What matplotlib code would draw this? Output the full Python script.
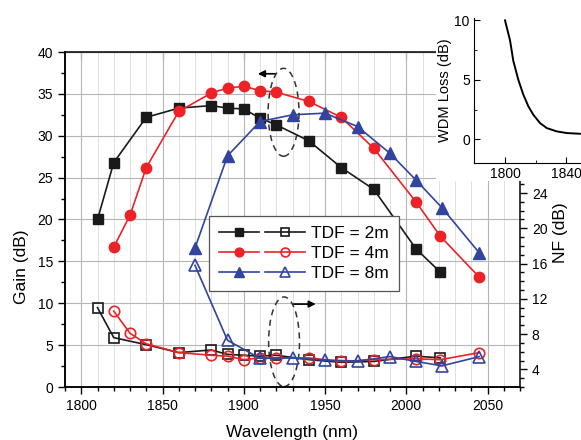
import matplotlib
matplotlib.use("Agg")
import matplotlib.pyplot as plt
from matplotlib.patches import Ellipse, Rectangle
from matplotlib.legend_handler import HandlerTuple
from matplotlib.ticker import MultipleLocator

plt.rcParams['font.family'] = ['Liberation Sans', 'DejaVu Sans']

# ---- data ----
wl_2m = [1810, 1820, 1840, 1860, 1880, 1890, 1900, 1910, 1920, 1940, 1960, 1980, 2006, 2021]
gain_2m = [20.0, 26.8, 32.2, 33.3, 33.6, 33.3, 33.2, 32.1, 31.3, 29.4, 26.2, 23.6, 16.5, 13.7]
nf_2m = [11.0, 7.6, 6.8, 5.9, 6.2, 5.7, 5.6, 5.5, 5.6, 5.1, 4.8, 4.9, 5.5, 5.3]

wl_4m = [1820, 1830, 1840, 1860, 1880, 1890, 1900, 1910, 1920, 1940, 1960, 1980, 2006, 2021, 2045]
gain_4m = [16.7, 20.5, 26.2, 32.9, 35.1, 35.7, 35.9, 35.4, 35.2, 34.1, 32.2, 28.5, 22.1, 18.0, 13.1]
nf_4m = [10.6, 8.1, 6.9, 5.9, 5.6, 5.5, 5.1, 5.3, 5.3, 5.3, 4.9, 5.1, 5.2, 5.1, 5.9]

wl_8m = [1870, 1890, 1910, 1930, 1950, 1970, 1990, 2006, 2022, 2045]
gain_8m = [16.6, 27.6, 31.7, 32.5, 32.7, 31.1, 27.9, 24.7, 21.4, 16.0]
nf_8m = [15.8, 7.3, 5.25, 5.3, 5.05, 4.95, 5.45, 4.9, 4.4, 5.45]

labels = ['TDF = 2m', 'TDF = 4m', 'TDF = 8m']

wdm_wl = [1800, 1803.3, 1805.4, 1808.7, 1812, 1815.3, 1818.5, 1822.9, 1827.3,
          1833.8, 1840.3, 1849]
wdm_loss = [10.0, 8.3, 6.6, 5.0, 3.74, 2.76, 2.06, 1.36, 0.94, 0.66, 0.52, 0.46]

# ---- styles ----
c_black = '#1a1a1a'
c_red = '#ec2227'
c_blue = '#3044a0'
colors = [c_black, c_red, c_blue]
markers = ['s', 'o', '^']
msize = [6.5, 7.5, 8]

W, H = 581, 440
fig = plt.figure(figsize=(W / 100, H / 100), dpi=100)
ax = fig.add_axes([65 / W, 53 / H, 455 / W, 335 / H])
ax2 = ax.twinx()

series = [(wl_2m, gain_2m, nf_2m), (wl_4m, gain_4m, nf_4m), (wl_8m, gain_8m, nf_8m)]
handles = []
for (wl, g, nf), c, m, ms in zip(series, colors, markers, msize):
    h1, = ax.plot(wl, g, color=c, marker=m, ms=ms, lw=1.2, mec=c, mfc=c, zorder=3)
    h2, = ax2.plot(wl, nf, color=c, marker=m, ms=ms, lw=1.2, mec=c, mfc='none',
                   mew=1.2, zorder=3)
    handles.append((h1, h2))

ax.set_xlim(1790, 2070)
ax.set_ylim(0, 40)
ax2.set_ylim(2, 40)

ax.xaxis.set_major_locator(MultipleLocator(50))
ax.xaxis.set_minor_locator(MultipleLocator(10))
ax.yaxis.set_major_locator(MultipleLocator(5))
ax.yaxis.set_minor_locator(MultipleLocator(2.5))
ax.tick_params(axis='both', which='major', direction='out', length=5, width=1, labelsize=10)
ax.tick_params(axis='both', which='minor', direction='out', length=3, width=1)

top = ax.secondary_xaxis('top')
top.xaxis.set_major_locator(MultipleLocator(50))
top.xaxis.set_minor_locator(MultipleLocator(10))
top.tick_params(which='major', direction='in', length=5, labeltop=False)
top.tick_params(which='minor', direction='in', length=3)

ax2.set_yticks([4, 8, 12, 16, 20, 24])
ax2.yaxis.set_minor_locator(MultipleLocator(1))
ax2.tick_params(axis='y', which='major', direction='out', length=5, width=1, labelsize=10)
ax2.tick_params(axis='y', which='minor', direction='out', length=3, width=1)
ax2.spines['right'].set_bounds(2, 25.5)
ax2.spines['top'].set_visible(False)
ax.spines['right'].set_visible(False)
for a in (ax, ax2):
    for s in a.spines.values():
        s.set_linewidth(1.1)

ax.grid(True, which='major', color='#b5b5b5', lw=0.8)
ax.grid(True, which='minor', axis='x', color='#e0e0e0', lw=0.7)
ax.set_axisbelow(True)

ax.set_xlabel('Wavelength (nm)', fontsize=12.5, labelpad=9)
ax.set_ylabel('Gain (dB)', fontsize=12.5, labelpad=6, y=0.36)
ax2.set_ylabel('NF (dB)', fontsize=12.5, labelpad=4, y=0.46)

# dashed ellipses and arrows
ax.add_patch(Ellipse((1924.5, 32.8), 19, 10.5, fill=False, ls=(0, (4, 3)), lw=1.1,
                     color='#333333', zorder=4))
ax.add_patch(Ellipse((1924.8, 5.4), 19, 10.7, fill=False, ls=(0, (4, 3)), lw=1.1,
                     color='#333333', zorder=4))
ax.annotate('', xy=(1907, 37.4), xytext=(1921, 37.4),
            arrowprops=dict(arrowstyle='-|>', color='black', lw=1.2, mutation_scale=10))
ax.annotate('', xy=(1946, 9.9), xytext=(1929, 9.9),
            arrowprops=dict(arrowstyle='-|>', color='black', lw=1.2, mutation_scale=10))

leg = ax2.legend(handles=handles, labels=labels,
                 handler_map={tuple: HandlerTuple(ndivide=None, pad=0.35)},
                 loc='upper left', bbox_to_anchor=(209 / W, (H - 216) / H),
                 bbox_transform=fig.transFigure, fontsize=12.5, handlelength=5.0,
                 markerscale=0.85,
                 frameon=True, fancybox=False, edgecolor='#555555', framealpha=1,
                 borderpad=0.55, labelspacing=0.3, handletextpad=0.35,
                 borderaxespad=0)
leg.get_frame().set_linewidth(0.9)

# white cover for the inset area
fig.patches.append(Rectangle((436 / W, (H - 181) / H), 1, 1, transform=fig.transFigure,
                             facecolor='white', edgecolor='none', zorder=1))

# inset
axi = fig.add_axes([474 / W, (H - 163) / H, 107 / W, 145 / H], zorder=2)
axi.plot(wdm_wl, wdm_loss, color='black', lw=1.4)
axi.set_xlim(1779.7, 1849.7)
axi.set_ylim(-2, 10.2)
axi.set_xticks([1800, 1840])
axi.xaxis.set_minor_locator(MultipleLocator(20))
axi.set_yticks([0, 5, 10])
axi.yaxis.set_minor_locator(MultipleLocator(2.5))
axi.tick_params(which='major', direction='in', length=4, labelsize=10, pad=3)
axi.tick_params(which='minor', direction='in', length=2.5)
axi.spines['top'].set_visible(False)
axi.spines['right'].set_visible(False)
axi.set_ylabel('WDM Loss (dB)', fontsize=10.5, labelpad=2)

fig.savefig('out.png', dpi=100)
